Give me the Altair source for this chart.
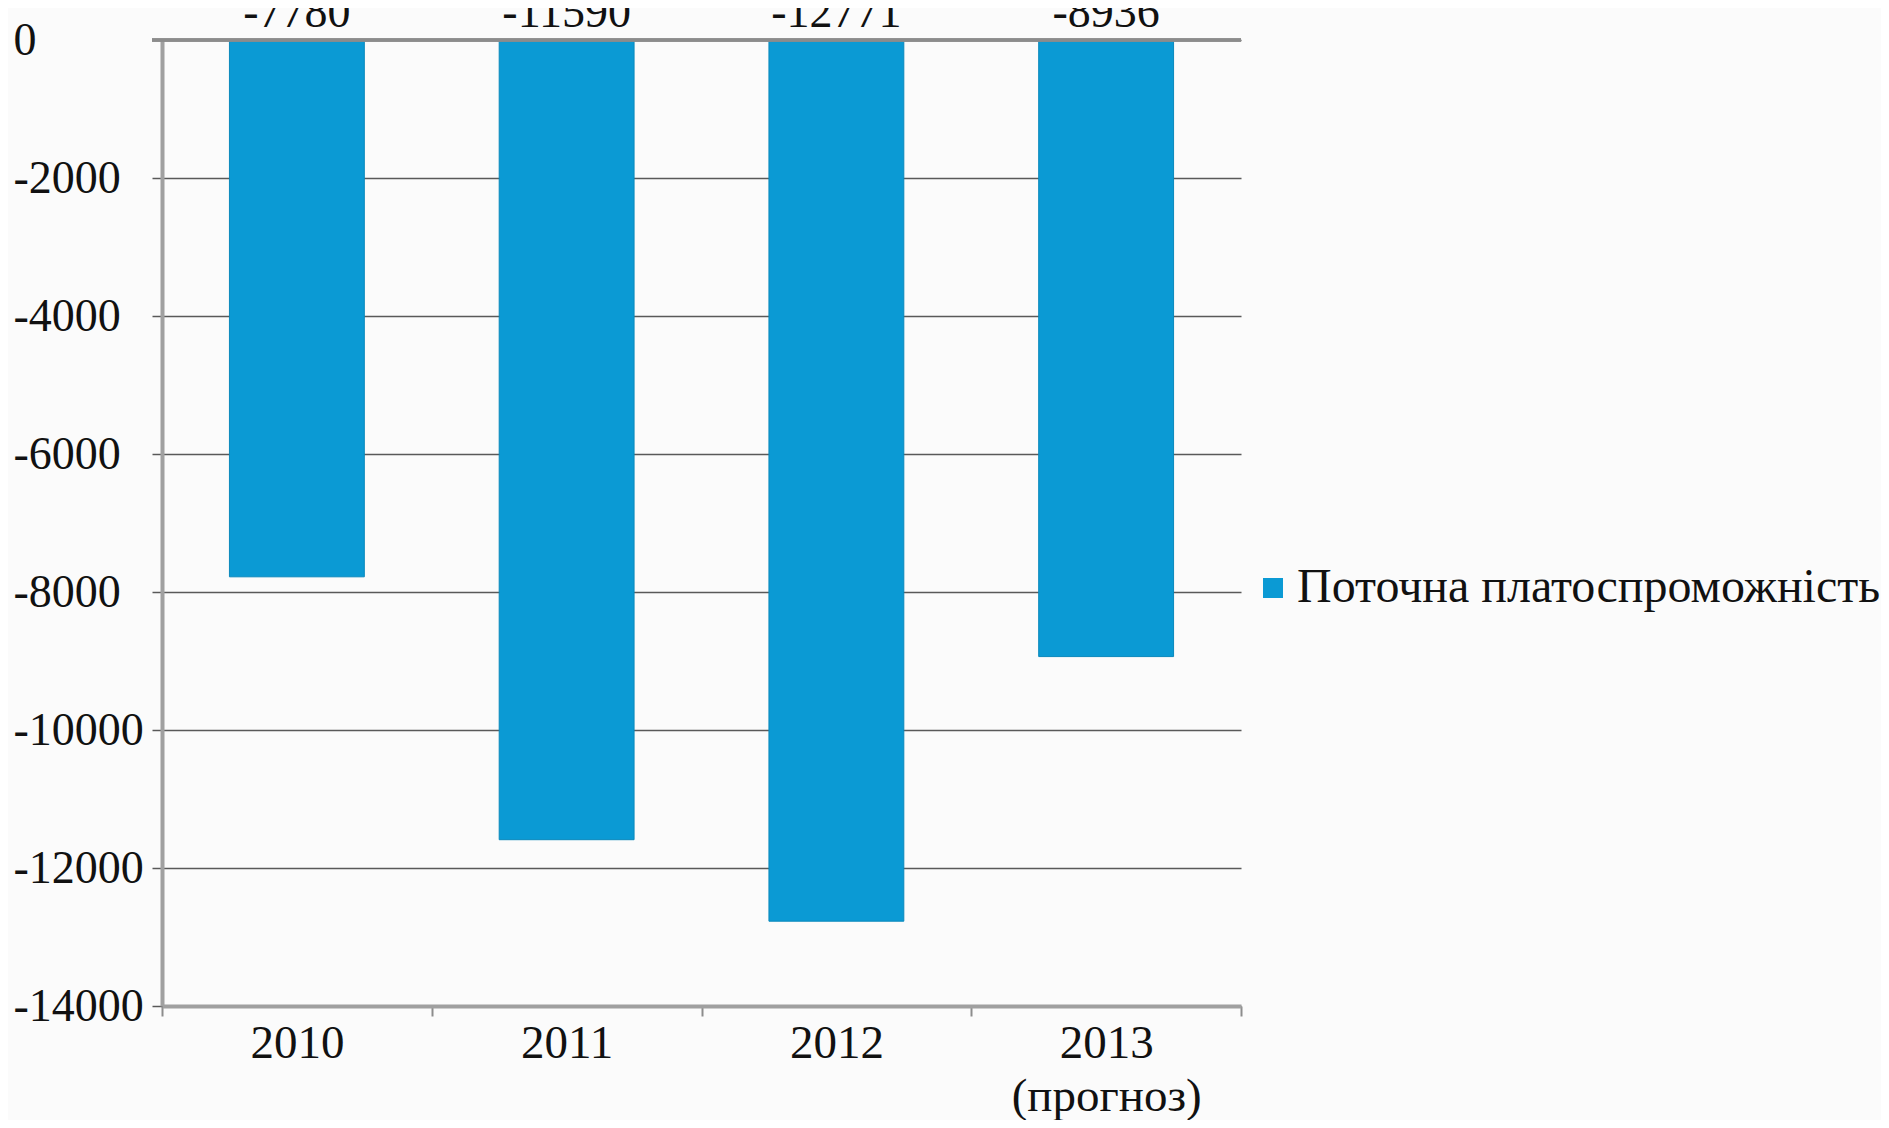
import altair as alt
import pandas as pd

# ---- data ----
years = ["2010", "2011", "2012", "2013"]
values = [-7780, -11590, -12771, -8936]
series_name = "Поточна платоспроможність"
forecast_note = "(прогноз)"
y_ticks = [0, -2000, -4000, -6000, -8000, -10000, -12000, -14000]

df = pd.DataFrame({
    "year": years,
    "value": values,
    "label": [str(v) for v in values],
    "series": [series_name] * len(years),
})

BAR = "#0B9AD4"
FONT = "Liberation Serif"
W, H = 1079, 966

x_enc = alt.X(
    "year:N",
    sort=years,
    scale=alt.Scale(paddingInner=0, paddingOuter=0),
    axis=alt.Axis(
        title=None,
        labelAngle=0,
        labelFont=FONT,
        labelFontSize=47,
        labelColor="#111111",
        labelPadding=4,
        labelLineHeight=53,
        labelLimit=0,
        labelExpr="datum.value == '2013' ? ['2013', '" + forecast_note + "'] : datum.value",
        tickBand="extent",
        tickSize=10,
        tickWidth=2,
        tickColor="#8C8C8C",
        domainColor="#A0A0A0",
        domainWidth=4,
        grid=False,
    ),
)

y_scale = alt.Scale(domain=[-14000, 0], nice=False, zero=True)

bars = alt.Chart(df).mark_bar(
    width=alt.RelativeBandSize(0.5), stroke="#0A88BC", strokeWidth=1
).encode(
    x=x_enc,
    y=alt.Y(
        "value:Q",
        scale=y_scale,
        axis=alt.Axis(
            title=None,
            values=y_ticks,
            labelExpr="'' + datum.value",
            labelAlign="left",
            labelBaseline="middle",
            labelPadding=139,
            labelFont=FONT,
            labelFontSize=46,
            labelColor="#111111",
            tickSize=10,
            tickWidth=1.5,
            tickColor="#595959",
            domainColor="#A0A0A0",
            domainWidth=4,
            grid=True,
            gridColor="#595959",
            gridWidth=1.5,
        ),
    ),
    color=alt.Color(
        "series:N",
        scale=alt.Scale(range=[BAR]),
        legend=alt.Legend(
            title=None,
            orient="none",
            legendX=1075,
            legendY=524,
            symbolType="square",
            symbolSize=400,
            symbolStrokeWidth=0,
            symbolOffset=12,
            labelFont=FONT,
            labelFontSize=48,
            labelColor="#111111",
            labelOffset=0,
            padding=0,
            labelLimit=0,
        ),
    ),
)

zero_rule = alt.Chart(df).mark_rule(color="#8C8C8C", strokeWidth=3).encode(
    y=alt.value(0),
    x=alt.value(-10),
    x2=alt.value(W),
)

labels = alt.Chart(df).mark_text(
    font=FONT, fontSize=46, color="#111111", baseline="alphabetic", dy=-13
).encode(
    x=alt.X("year:N", sort=years),
    y=alt.value(0),
    text="label:N",
)

chart = alt.layer(bars, zero_rule, labels).properties(
    width=W,
    height=H,
    padding={"left": 154, "top": 32, "right": 640, "bottom": 114},
    autosize=alt.AutoSizeParams(type="none"),
    background="#FBFBFB",
).configure_view(stroke=None)

chart.save("out.html", embed_options={"renderer": "svg", "actions": False})
